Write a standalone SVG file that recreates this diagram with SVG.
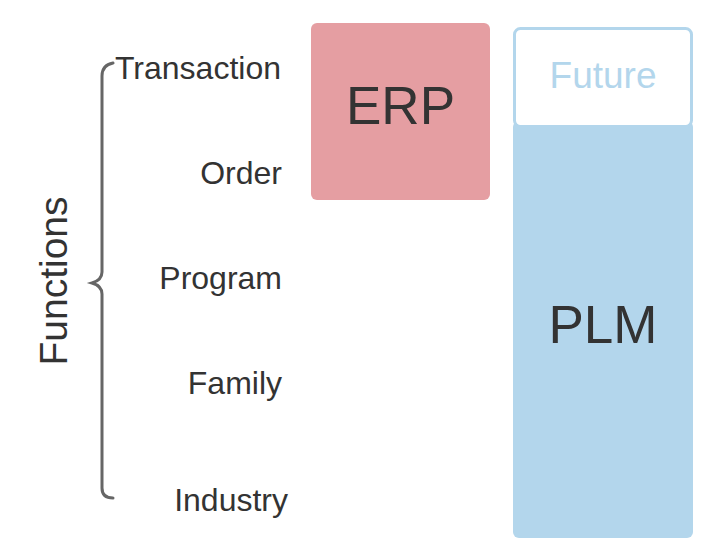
<svg xmlns="http://www.w3.org/2000/svg" width="713" height="560" viewBox="0 0 713 560">
<style>
.lbl{font-family:"Liberation Sans",Arial,sans-serif;font-size:32px;fill:#333;text-anchor:end}
.big{font-family:"Liberation Sans",Arial,sans-serif;font-size:53px;fill:#333;text-anchor:middle}
</style>
<rect width="713" height="560" fill="#fff"/>
<g id="erp">
<rect x="311" y="23" width="179" height="177" rx="6" fill="#e59ea2"/>
<text class="big" x="400.5" y="124">ERP</text>
</g>
<g id="plm">
<rect x="513" y="121" width="180" height="417" rx="6" fill="#b3d6ec"/>
<text class="big" x="603" y="343">PLM</text>
</g>
<g id="future">
<rect x="514.5" y="28.5" width="177" height="98" rx="6" fill="#fff" stroke="#b3d6ec" stroke-width="3"/>
<text x="603" y="88" font-family="Liberation Sans,Arial,sans-serif" font-size="37" fill="#b3d6ec" text-anchor="middle">Future</text>
</g>
<g id="labels">
<text class="lbl" x="281" y="79">Transaction</text>
<text class="lbl" x="282" y="184">Order</text>
<text class="lbl" x="282" y="289">Program</text>
<text class="lbl" x="282" y="394">Family</text>
<text class="lbl" x="288" y="511">Industry</text>
<text transform="translate(67,281) rotate(-90)" font-family="Liberation Sans,Arial,sans-serif" font-size="39" fill="#333" text-anchor="middle">Functions</text>
</g>
<g id="connectors">
<path d="M113,63 Q102,65 102,76 L102,272 Q102,280 92,283 Q102,286 102,294 L102,488 Q102,498 113,498" fill="none" stroke="#666" stroke-width="3" stroke-linecap="round"/>
</g>
</svg>
